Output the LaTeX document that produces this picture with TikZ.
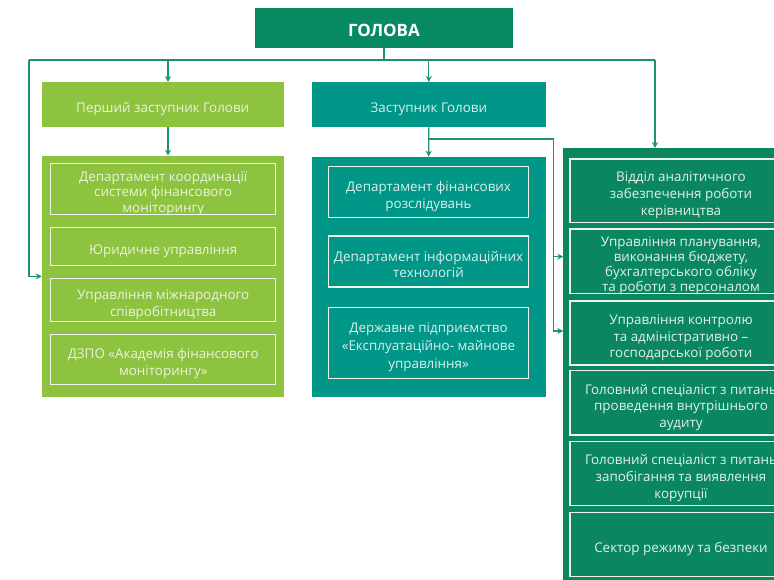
\documentclass[tikz,border=0pt]{standalone}
\usepackage{fontspec}
\setmainfont{Open Sans}
\usetikzlibrary{arrows.meta}

\definecolor{headgreen}{HTML}{078A62}
\definecolor{lightgreen}{HTML}{8DC33F}
\definecolor{tealbox}{HTML}{009688}
\definecolor{darkgreen}{HTML}{0A8760}
\definecolor{linkcol}{HTML}{1E9273}
\definecolor{txtL}{HTML}{EAF3DC}
\definecolor{txtM}{HTML}{DCEFEB}
\definecolor{txtR}{HTML}{E2F1EA}
\definecolor{rimcol}{HTML}{EEF4EA}

% a tall invisible strut on the first line sets the text a little lower in its box
\newcommand{\toplift}{\rule{0pt}{16pt}}

\tikzset{
  block/.style={draw=none, inner sep=0pt, outer sep=0pt, align=center,
    text depth=0pt, font=\fontsize{13.4}{16.8}\selectfont},
  lgreen/.style={block, fill=lightgreen, text=txtL},
  teal/.style={block, fill=tealbox, text=txtM},
  dgreen/.style={block, fill=darkgreen, text=txtR},
  unitL/.style={lgreen, draw=rimcol, line width=1.4pt},
  unitM/.style={teal, draw=rimcol, line width=1.4pt},
  unitR/.style={dgreen, draw=rimcol, line width=1.4pt},
  link/.style={draw=linkcol, line width=1.2pt},
  tolink/.style={link, -{Stealth[length=6pt,width=6pt]}}
}

\begin{document}
\begin{tikzpicture}[x=1pt,y=-1pt]
\useasboundingbox (0,0) rectangle (774,580);
\clip (0,0) rectangle (774,580);
\fill[white] (0,0) rectangle (774,580);

% top level
\node[block, fill=headgreen, text=white, minimum width=258pt, minimum height=40.5pt,
  font=\fontsize{17}{18}\selectfont\bfseries] (head) at (384,28.25) {\toplift ГОЛОВА};

% deputies
\node[lgreen, minimum width=242pt, minimum height=45pt] (vp1) at (162.7,104.5)
  {\toplift Перший заступник Голови};
\node[teal, minimum width=233.7pt, minimum height=45pt] (vp2) at (428.85,104.5)
  {\toplift Заступник Голови};

% group panels
\node[lgreen, minimum width=242.3pt, minimum height=241.3pt] (grpL) at (162.85,276.35) {};
\node[teal, minimum width=234pt, minimum height=240pt] (grpM) at (428.7,276.7) {};
\node[dgreen, minimum width=235.4pt, minimum height=442pt] (grpR) at (681,369) {};

% units under the first deputy
\node[unitL, minimum width=225pt, minimum height=51pt,
  font=\fontsize{13.4}{15.5}\selectfont] (l1) at (163.2,188.8)
  {\toplift Департамент координації\\системи фінансового\\моніторингу};
\node[unitL, minimum width=225pt, minimum height=37.6pt] (l2) at (163.2,246.5)
  {\toplift Юридичне управління};
\node[unitL, minimum width=225pt, minimum height=43.4pt] (l3) at (163.2,300)
  {\toplift Управління міжнародного\\співробітництва};
\node[unitL, minimum width=225pt, minimum height=50pt] (l4) at (163.2,359.3)
  {\toplift ДЗПО «Академія фінансового\\моніторингу»};

% units under the deputy
\node[unitM, minimum width=200.4pt, minimum height=51pt] (m1) at (428.5,192.2)
  {\toplift Департамент фінансових\\розслідувань};
\node[unitM, minimum width=200.4pt, minimum height=51pt] (m2) at (428.5,261.5)
  {\toplift Департамент інформаційних\\технологій};
\node[unitM, minimum width=200.4pt, minimum height=71pt,
  font=\fontsize{13.4}{18}\selectfont] (m3) at (428.5,342.8)
  {\toplift Державне підприємство\\«Експлуатаційно- майнове\\управління»};

% units under the head
\node[unitR, minimum width=222pt, minimum height=63.3pt] (r1) at (681,190.65)
  {\toplift Відділ аналітичного\\забезпечення роботи\\керівництва};
\node[unitR, minimum width=222pt, minimum height=64.3pt,
  font=\fontsize{13.4}{15}\selectfont] (r2) at (681,261.15)
  {\toplift Управління планування,\\виконання бюджету,\\бухгалтерського обліку\\та роботи з персоналом};
\node[unitR, minimum width=222pt, minimum height=64pt] (r3) at (681,333)
  {\toplift Управління контролю\\та адміністративно –\\господарської роботи};
\node[unitR, minimum width=222pt, minimum height=64.3pt] (r4) at (681,402.85)
  {\toplift Головний спеціаліст з питань\\проведення внутрішнього\\аудиту};
\node[unitR, minimum width=222pt, minimum height=64pt] (r5) at (681,473.7)
  {\toplift Головний спеціаліст з питань\\запобігання та виявлення\\корупції};
\node[unitR, minimum width=222pt, minimum height=64.4pt] (r6) at (681,544.5)
  {\toplift Сектор режиму та безпеки};

% connectors
\coordinate (bus) at (384,60);
\coordinate (busL) at (29,60);
\coordinate (busR) at (655,60);
\coordinate (tapL) at (168,60);
\coordinate (split) at (428.7,139);
\coordinate (splitR) at (553.5,139);

\draw[link] (head.south) -- (bus);
\draw[link] (busL) -- (busR);
\draw[tolink] (busL) |- (grpL.west);
\draw[tolink] (tapL) -- (tapL |- vp1.north);
\draw[tolink] (vp2.north |- bus) -- (vp2.north);
\draw[tolink] (busR) -- (busR |- grpR.north);
\draw[tolink] (vp1.south -| tapL) -- (tapL |- grpL.north);
\draw[tolink] (vp2.south) -- (grpM.north);
\draw[link] (split) -- (splitR);
\draw[tolink] (splitR) |- (grpR.west |- 0,256.7);
\draw[tolink] (splitR) |- (grpR.west |- 0,331);
\end{tikzpicture}
\end{document}
